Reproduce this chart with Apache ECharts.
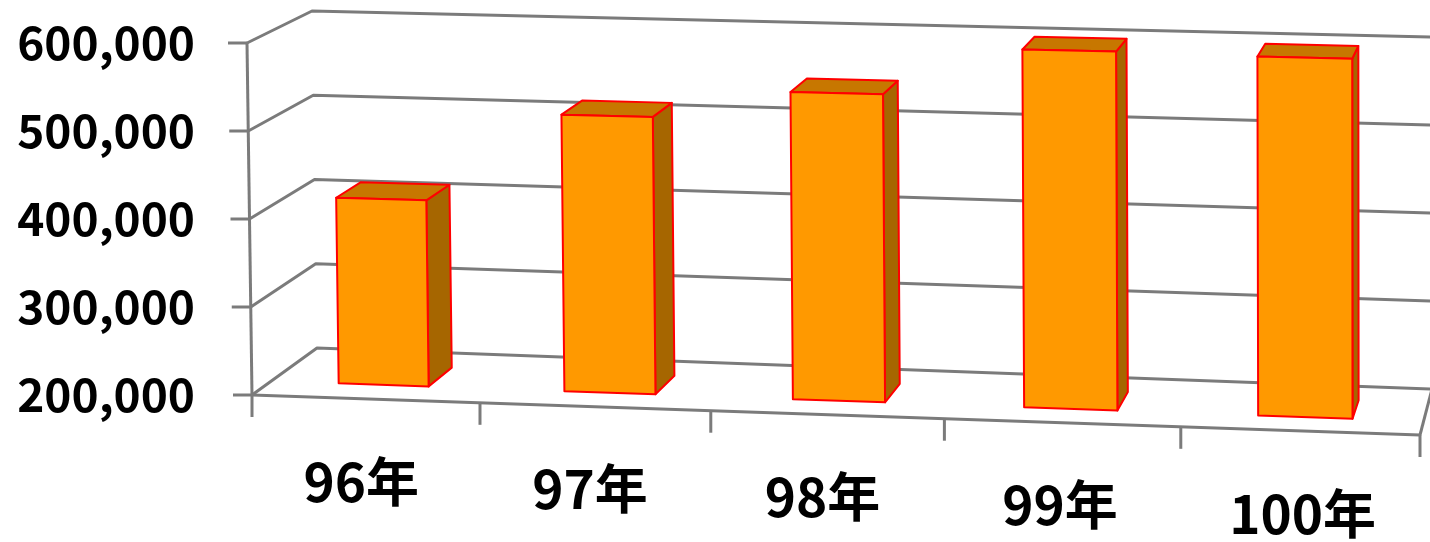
<!DOCTYPE html>
<html>
<head>
<meta charset="utf-8">
<script src="https://cdn.jsdelivr.net/npm/echarts@6/dist/echarts.min.js"></script>
<style>
html,body{margin:0;padding:0;background:#ffffff;}
#chart{width:1430px;height:542px;}
</style>
</head>
<body>
<div id="chart"></div>
<script>
// ---- data ----
const categories = ['96年', '97年', '98年', '99年', '100年'];
const values = [413000, 515000, 547000, 601000, 599000];
const yTicks = [200000, 300000, 400000, 500000, 600000];
const yMin = 200000;
const yMax = 600000;
const yStep = 100000;

// ---- layout / style ----
const FONT = '"Noto Sans CJK TC", "Noto Sans", sans-serif';
const labelDrop = [0, 7.5, 15.5, 23.5, 32.5];   // px, per-category label drop (perspective)
const labelShift = [3, 9, 11, 8, 0];            // px, per-category left shift
const GRID = '#7b7b7b';
const FRONT = '#ff9900', TOP = '#c77700', SIDE = '#a66600', EDGE = '#ff0000';
const WARP = 0.03;                               // horizontal perspective compression

function fmt(v) { return String(v).replace(/\B(?=(\d{3})+(?!\d))/g, ','); }

// trilinear projection of the 3D plot box (u: along categories, t: value, w: depth)
function makeProj(cs) {
  const gx = cs.x, gy = cs.y, gw = cs.width, gh = cs.height, gb = gy + gh;
  const FLB = [gx + 5, gb], FLT = [gx, gy], FRB = [gx + gw, gb + 40], FRT = [gx + gw, gy + 26];
  const BLB = [gx + 70, gb - 47], BLT = [gx + 65, gy - 32], BRB = [gx + gw + 12, gb - 6], BRT = [gx + gw + 12, gy - 6];
  const lerp = (a, b, s) => [a[0] + (b[0] - a[0]) * s, a[1] + (b[1] - a[1]) * s];
  return function (u, t, w) {
    u = u - WARP * u * (1 - u);
    const fb = lerp(FLB, FRB, u), ft = lerp(FLT, FRT, u);
    const bb = lerp(BLB, BRB, u), bt = lerp(BLT, BRT, u);
    return lerp(lerp(fb, ft, t), lerp(bb, bt, t), w);
  };
}

function renderWalls(params, api) {
  const cs = params.coordSys;
  const P = makeProj(cs);
  const v = api.value(1);
  const py = api.coord([0, v])[1];
  const t = (cs.y + cs.height - py) / cs.height;
  const ls = { stroke: GRID, lineWidth: 3, fill: 'none', lineJoin: 'round' };
  const fl = P(0, t, 0);
  const children = [
    { type: 'polyline', shape: { points: [fl, P(0, t, 1), P(1, t, 1)] }, style: ls },
    { type: 'line', shape: { x1: fl[0] - 19, y1: fl[1], x2: fl[0], y2: fl[1] }, style: ls }
  ];
  if (params.dataIndex === 0) {
    children.push({ type: 'polyline', shape: { points: [P(0, 0, 0), P(0, 1, 0)] }, style: ls });
    children.push({ type: 'polyline', shape: { points: [P(0, 0, 0), P(1, 0, 0)] }, style: ls });
    children.push({ type: 'polyline', shape: { points: [P(1, 0, 0), P(1, 0, 1)] }, style: ls });
    const bw = api.size([1, 0])[0];
    const x0 = api.coord([0, yMin])[0] - bw / 2;
    for (let k = 0; k <= categories.length; k++) {
      const u = (x0 + k * bw - cs.x) / cs.width;
      const p = P(u, 0, 0);
      children.push({ type: 'line', shape: { x1: p[0], y1: p[1], x2: p[0], y2: p[1] + 22 }, style: ls });
    }
  }
  return { type: 'group', children };
}

function renderBars(params, api) {
  const cs = params.coordSys;
  const P = makeProj(cs);
  const i = api.value(0), v = api.value(1);
  const pt = api.coord([i, v]);
  const pb = api.coord([i, yMin]);
  const bw = api.size([1, 0])[0];
  const uc = (pt[0] - cs.x) / cs.width;
  const du = 0.2 * bw / cs.width;
  const t = (pb[1] - pt[1]) / cs.height;
  const u0 = uc - du, u1 = uc + du, w0 = 0.3, w1 = 0.7;
  const edge = { stroke: EDGE, lineWidth: 2, lineJoin: 'round' };
  return {
    type: 'group',
    children: [
      { type: 'polygon', shape: { points: [P(u1, 0, w0), P(u1, 0, w1), P(u1, t, w1), P(u1, t, w0)] },
        style: Object.assign({ fill: SIDE }, edge) },
      { type: 'polygon', shape: { points: [P(u0, t, w0), P(u1, t, w0), P(u1, t, w1), P(u0, t, w1)] },
        style: Object.assign({ fill: TOP }, edge) },
      { type: 'polygon', shape: { points: [P(u0, 0, w0), P(u1, 0, w0), P(u1, t, w0), P(u0, t, w0)] },
        style: Object.assign({ fill: FRONT }, edge) }
    ]
  };
}

const rich = {};
categories.forEach((c, idx) => {
  rich['c' + idx] = {
    fontSize: 53, fontWeight: 'bold', fontFamily: FONT, color: '#000',
    padding: [labelDrop[idx], labelShift[idx] * 2, 0, 0]
  };
});

const chart = echarts.init(document.getElementById('chart'), null, { renderer: 'canvas' });
chart.setOption({
  animation: false,
  backgroundColor: '#ffffff',
  grid: { left: 247, top: 43, width: 1173, height: 352 },
  xAxis: {
    type: 'category',
    data: categories,
    axisLine: { show: false },
    axisTick: { show: false },
    axisLabel: {
      interval: 0,
      margin: 60,
      formatter: (val, idx) => '{c' + idx + '|' + val + '}',
      rich: rich
    }
  },
  yAxis: {
    type: 'value',
    min: yMin, max: yMax, interval: yStep,
    axisLine: { show: false },
    axisTick: { show: false },
    splitLine: { show: false },
    axisLabel: {
      margin: 52, fontSize: 46, fontWeight: 'bold', color: '#000', fontFamily: FONT,
      padding: [6, 0, 0, 0],
      formatter: v => fmt(v)
    }
  },
  series: [
    { type: 'custom', name: 'walls', silent: true, z: 1, clip: false,
      encode: { x: 0, y: 1 }, data: yTicks.map(v => [0, v]), renderItem: renderWalls },
    { type: 'custom', name: '數量', z: 2, clip: false,
      encode: { x: 0, y: 1 }, data: values.map((v, i) => [i, v]), renderItem: renderBars }
  ]
});
</script>
</body>
</html>
